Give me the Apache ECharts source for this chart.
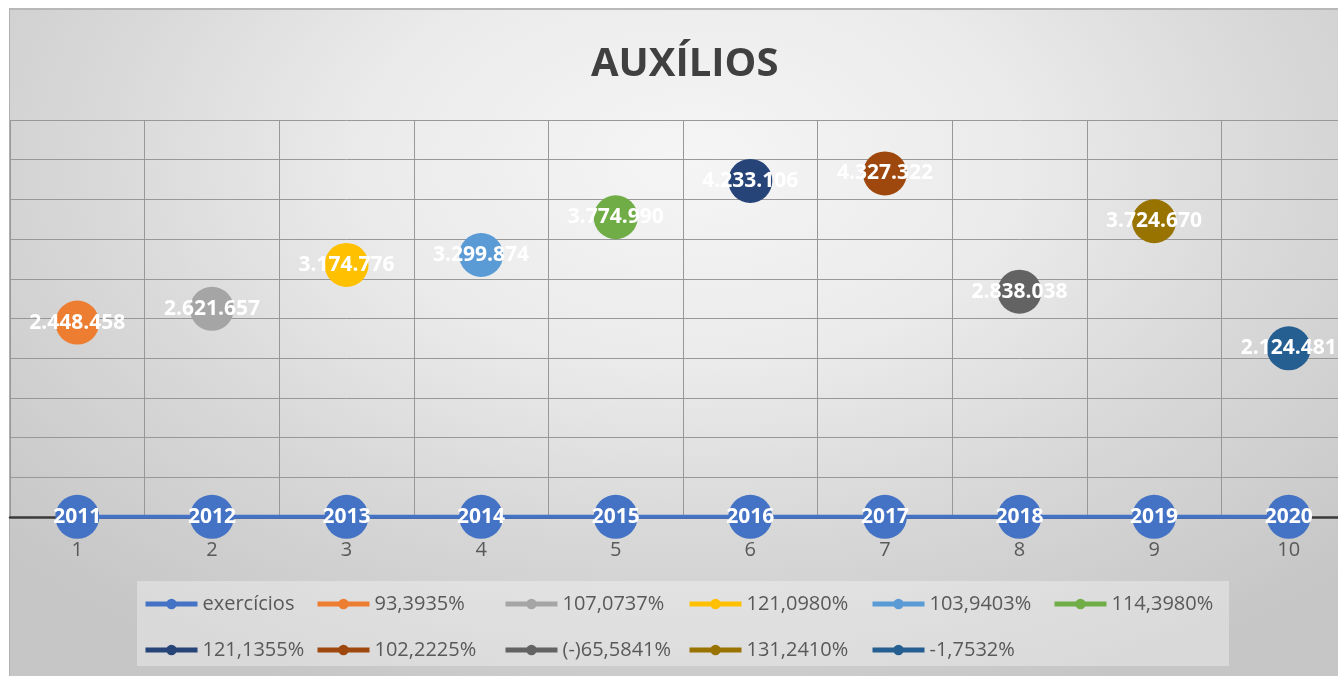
<!DOCTYPE html>
<html>
<head>
<meta charset="utf-8">
<title>AUXÍLIOS</title>
<script src="https://cdn.jsdelivr.net/npm/echarts@6/dist/echarts.min.js"></script>
<style>
  html, body { margin: 0; padding: 0; background: #ffffff; }
  #wrap { position: relative; width: 1338px; height: 676px; overflow: hidden; }
  #panel {
    position: absolute; left: 9px; top: 8px; width: 1360px; height: 680px;
    border-top: 2px solid #b8b8b8; border-left: 1px solid #b0b0b0;
    background: radial-gradient(ellipse 68% 85% at 50% 22%, #f5f5f5 0%, #ebebeb 35%, #d8d8d8 65%, #c6c6c6 100%);
  }
  #legendBox {
    position: absolute; left: 137px; top: 581px; width: 1092px; height: 85px;
    background: rgba(255,255,255,0.33);
  }
  #chart { position: absolute; left: 0; top: 0; width: 1356px; height: 676px; }
</style>
</head>
<body>
<div id="wrap">
  <div id="panel"></div>
  <div id="legendBox"></div>
  <div id="chart"></div>
</div>
<script>
// Category positions along the horizontal axis
const categories = ['1', '2', '3', '4', '5', '6', '7', '8', '9', '10'];

// Fiscal years (the "exercícios" series)
const years = [2011, 2012, 2013, 2014, 2015, 2016, 2017, 2018, 2019, 2020];

// Yearly amounts, one per year
const amounts = [2448458, 2621657, 3174776, 3299874, 3774990, 4233106, 4327322, 2838038, 3724670, 2124481];

// Names of the yearly series (percentage variation)
const amountNames = ['93,3935%', '107,0737%', '121,0980%', '103,9403%', '114,3980%',
                     '121,1355%', '102,2225%', '(-)65,5841%', '131,2410%', '-1,7532%'];

const yearSeriesName = 'exercícios';

// Value axis ticks
const yMin = 0;
const yMax = 5000000;
const yStep = 500000;

// Palette
const yearColor = '#4472C4';
const amountColors = ['#ED7D31', '#A5A5A5', '#FFC000', '#5B9BD5', '#70AD47',
                      '#264478', '#9E480E', '#636363', '#997300', '#255E91'];

// Legend grid: six entries per row, fixed column offsets
const legendColumns = [143, 315, 503, 687, 870, 1052];
const legendRows = [594, 640];
const legendPerRow = 6;

const FONT = '"Open Sans", "Noto Sans", sans-serif';

function fmtThousands(v) {
  return String(Math.round(v)).replace(/\B(?=(\d{3})+(?!\d))/g, '.');
}

const markerSize = 44;
const labelStyle = {
  show: true,
  position: 'inside',
  color: '#ffffff',
  fontFamily: FONT,
  fontWeight: 'bold',
  fontSize: 21
};

const series = [{
  name: yearSeriesName,
  type: 'line',
  data: years,
  symbol: 'circle',
  symbolSize: markerSize,
  itemStyle: { color: yearColor },
  lineStyle: { color: yearColor, width: 4 },
  label: Object.assign({}, labelStyle, { formatter: p => String(p.value) }),
  z: 3
}];

amounts.forEach((v, i) => {
  series.push({
    name: amountNames[i],
    type: 'line',
    data: categories.map((_, j) => (j === i ? v : null)),
    symbol: 'circle',
    symbolSize: markerSize,
    itemStyle: { color: amountColors[i] },
    lineStyle: { color: amountColors[i], width: 4 },
    label: Object.assign({}, labelStyle, { formatter: p => fmtThousands(p.value) }),
    z: 4
  });
});

const allNames = [yearSeriesName].concat(amountNames);

// One legend entry per component so the entries line up in columns
const legends = allNames.map((name, k) => ({
  orient: 'horizontal',
  left: legendColumns[k % legendPerRow],
  top: legendRows[Math.floor(k / legendPerRow)],
  padding: 0,
  itemWidth: 52,
  itemHeight: 13,
  itemGap: 0,
  lineStyle: { width: 5 },
  textStyle: { color: '#595959', fontFamily: FONT, fontSize: 20 },
  selectedMode: false,
  data: [name]
}));

const chart = echarts.init(document.getElementById('chart'), null, { renderer: 'canvas' });
chart.setOption({
  backgroundColor: 'transparent',
  animation: false,
  color: [yearColor].concat(amountColors),
  title: {
    text: 'AUXÍLIOS',
    left: 586,
    top: 40,
    textStyle: { color: '#404040', fontFamily: FONT, fontWeight: 'bold', fontSize: 40 }
  },
  legend: legends,
  grid: { left: 10, right: 0, top: 120, bottom: 159, containLabel: false },
  xAxis: {
    type: 'category',
    data: categories,
    boundaryGap: true,
    axisLine: { show: true, lineStyle: { color: '#3a3a3a', width: 2.5 } },
    axisTick: { show: false },
    axisLabel: { color: '#595959', fontFamily: FONT, fontSize: 20, margin: 23 },
    splitLine: { show: true, lineStyle: { color: '#989898', width: 1 } }
  },
  yAxis: {
    type: 'value',
    min: yMin,
    max: yMax,
    interval: yStep,
    axisLine: { show: false },
    axisTick: { show: false },
    axisLabel: { show: false },
    splitLine: { show: true, lineStyle: { color: '#989898', width: 1 } }
  },
  series: series
});
</script>
</body>
</html>
